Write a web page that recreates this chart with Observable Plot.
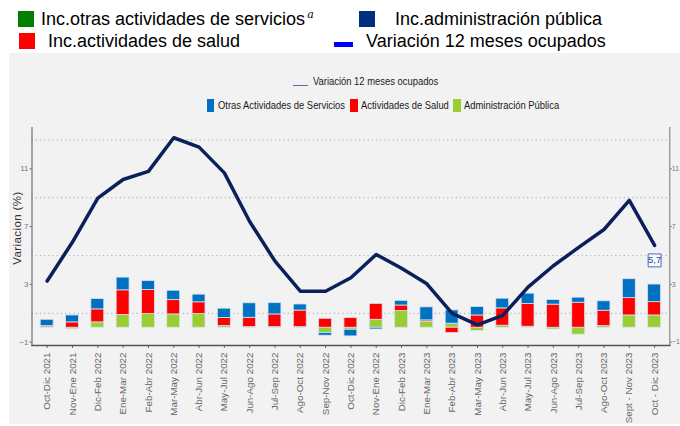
<!DOCTYPE html>
<html><head><meta charset="utf-8">
<script src="https://cdn.jsdelivr.net/npm/d3@7"></script>
<script src="https://cdn.jsdelivr.net/npm/@observablehq/plot@0.6"></script>
<style>
body{margin:0;width:680px;height:426px;position:relative;background:#fff;overflow:hidden;font-family:"Liberation Sans",Arial,sans-serif;}
#panel{position:absolute;left:9px;top:53px;width:671px;height:371px;background:#f2f2f2;}
.sw{position:absolute;}
.tl{position:absolute;font-size:18px;color:#000;white-space:nowrap;line-height:1;}
.il{position:absolute;font-family:"Liberation Sans",Arial,sans-serif;font-size:11px;color:#1a1a1a;white-space:nowrap;line-height:1;transform:scaleX(0.855);transform-origin:0 50%;}
#ytitle{position:absolute;left:17px;top:228px;transform:translate(-50%,-50%) rotate(-90deg);font-size:11.5px;color:#333;white-space:nowrap;letter-spacing:0.4px;}
#chart{position:absolute;left:0;top:120px;}
</style></head><body>
<div id="panel"></div>
<div id="legends"></div>
<div id="ytitle">Variacion (%)</div>
<div id="chart"></div>
<script>
// ---------- data ----------
const periods = ["Oct-Dic 2021","Nov-Ene 2021","Dic-Feb 2022","Ene-Mar 2022","Feb-Abr 2022","Mar-May 2022","Abr-Jun 2022","May-Jul 2022","Jun-Ago 2022","Jul-Sep 2022","Ago-Oct 2022","Sep-Nov 2022","Oct-Dic 2022","Nov-Ene 2022","Dic-Feb 2023","Ene-Mar 2023","Feb-Abr 2023","Mar-May 2023","Abr-Jun 2023","May-Jul 2023","Jun-Ago 2023","Jul-Sep 2023","Ago-Oct 2023","Sept - Nov 2023","Oct - Dic 2023"];
const otras = [0.44, 0.48, 0.72, 0.88, 0.62, 0.65, 0.53, 0.65, 1.0, 0.78, 0.42, -0.18, -0.46, -0.12, 0.32, 0.9, 0.92, 0.58, 0.67, 0.72, 0.32, 0.35, 0.65, 1.31, 1.22];
const salud = [0.08, 0.37, 0.9, 1.71, 1.66, 0.99, 0.81, 0.55, 0.65, 0.88, 1.15, 0.62, 0.67, 1.1, 0.39, 0.09, -0.37, 0.85, 1.2, 1.57, 1.6, 1.73, 1.06, 1.2, 0.92];
const admin = [0.03, -0.1, 0.37, 0.88, 0.95, 0.92, 0.95, 0.12, 0.04, 0.04, 0.04, -0.37, -0.14, 0.55, 1.15, 0.42, 0.28, -0.23, 0.14, 0.07, -0.12, -0.48, 0.12, 0.85, 0.85];
const variacion = [3.23, 5.93, 8.97, 10.26, 10.82, 13.15, 12.5, 10.72, 7.35, 4.61, 2.53, 2.53, 3.46, 5.07, 4.12, 3.04, 0.99, 0.2, 0.85, 2.81, 4.29, 5.56, 6.8, 8.81, 5.7];
const seriesNames = ["Administración Pública","Actividades de Salud","Otras Actividades de Servicios"];
const seriesColors = ["#9acd32","#ff0000","#0070c0"];
const lineName = "Variación 12 meses ocupados";
const yTicks = [-1, 3, 7, 11];
const yGrid = [1, 5, 9, 13];
const topLegendLabels = ["Inc.otras actividades de servicios","Inc.administración pública","Inc.actividades de salud","Variación 12 meses ocupados"];
const topLegendColors = ["#008000","#00307d","#ff0000","#0000ff"];

// ---------- legends (HTML) ----------
const L = document.getElementById("legends");
function add(cls, style, html){const e=document.createElement("div");e.className=cls;Object.assign(e.style,style);e.innerHTML=html||"";L.appendChild(e);return e;}
// top legend
add("sw",{left:"18px",top:"11px",width:"16px",height:"16px",background:topLegendColors[0]});
add("tl",{left:"41px",top:"10.4px"},topLegendLabels[0]+'<span style="font-family:\'DejaVu Serif\',serif;font-style:italic;font-size:11px;position:relative;top:-7px;margin-left:2px">a</span>');
add("sw",{left:"359px",top:"11px",width:"16px",height:"16px",background:topLegendColors[1]});
add("tl",{left:"395px",top:"10.4px"},topLegendLabels[1]);
add("sw",{left:"19px",top:"33px",width:"16px",height:"16px",background:topLegendColors[2]});
add("tl",{left:"48px",top:"32.4px"},topLegendLabels[2]);
add("sw",{left:"334px",top:"42px",width:"19px",height:"5px",background:topLegendColors[3]});
add("tl",{left:"366px",top:"32.4px"},topLegendLabels[3]);
// inner legend
add("sw",{left:"293px",top:"84.5px",width:"15px",height:"1.3px",background:"#4f6fad"});
add("il",{left:"313px",top:"75.7px"},lineName);
const innerX = [[206.7,218.3],[350,361],[453.3,464.3]];
const innerOrder = [2,1,0];
innerOrder.forEach((k,j)=>{
  add("sw",{left:innerX[j][0]+"px",top:"99px",width:"7.6px",height:"13.3px",background:seriesColors[k]});
  add("il",{left:innerX[j][1]+"px",top:"100.4px"},seriesNames[k]);
});

// ---------- chart ----------
const rows = [];
periods.forEach((p,i)=>{
  rows.push({period:p, series:seriesNames[0], value:admin[i]});
  rows.push({period:p, series:seriesNames[1], value:salud[i]});
  rows.push({period:p, series:seriesNames[2], value:otras[i]});
});
const lineRows = periods.map((p,i)=>({period:p, value:variacion[i]}));
const last = [lineRows[lineRows.length-1]];

const chart = Plot.plot({
  width: 680, height: 306,
  marginLeft: 31.5, marginRight: 10.7, marginTop: 7, marginBottom: 81,
  style: {background: "transparent", overflow: "visible", fontFamily: "Liberation Sans, Arial, sans-serif"},
  x: {domain: periods, paddingInner: 0, paddingOuter: 0.1, round: false, label: null},
  y: {domain: [-1.23, 13.86], label: null},
  color: {domain: seriesNames, range: seriesColors},
  marks: [
    Plot.gridY(yGrid, {stroke: "#b5b5b5", strokeOpacity: 1, strokeWidth: 1.2, strokeDasharray: "1.2,3"}),
    Plot.barY(rows, {x: "period", y: "value", fill: "series", order: seriesNames, insetLeft: 6.2, insetRight: 6.2, stroke: "#d3e4f4", strokeWidth: 0.8}),
    Plot.line(lineRows, {x: "period", y: "value", stroke: "#0b1f5b", strokeWidth: 3.5}),
    Plot.dot(last, {x: "period", y: "value", dy: 15, symbol: "square", r: 7.3, fill: "#f7f9ff", stroke: "#4a6cb3", strokeWidth: 1}),
    Plot.text(last, {x: "period", y: "value", dy: 15, text: d => d3.format(".1f")(d.value).replace(".", ","), fill: "#2b4a8c", fontSize: 9.5}),
    Plot.axisY(yTicks, {anchor: "left", tickSize: 2, tickPadding: 1.5, fontSize: 8, fill: "#777", stroke: "#666", label: null}),
    Plot.axisY(yTicks, {anchor: "right", tickSize: 1.5, tickPadding: 0.5, fontSize: 7, fill: "#777", stroke: "#666", label: null}),
    Plot.axisX({anchor: "bottom", tickRotate: -90, tickSize: 3, tickPadding: 4, fontSize: 9.8, fill: "#666", stroke: "#666", label: null}),
    Plot.frame({anchor: "left", stroke: "#555"}),
    Plot.frame({anchor: "right", stroke: "#777"}),
    Plot.frame({anchor: "bottom", stroke: "#555", strokeWidth: 1.5})
  ]
});
document.getElementById("chart").appendChild(chart);
</script>
</body></html>
